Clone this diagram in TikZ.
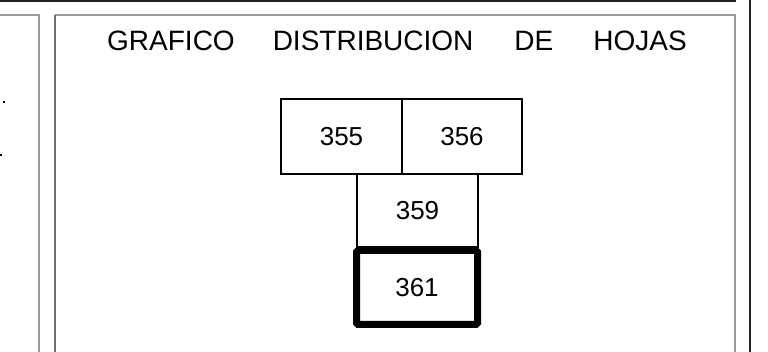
\documentclass[tikz,border=0pt]{standalone}
\usepackage{fontspec}
\setmainfont{Liberation Sans}
\usepackage{tikz}
\usetikzlibrary{positioning}
\definecolor{framedark}{HTML}{222222}
\definecolor{framegray}{HTML}{9A9A9A}
\definecolor{framemid}{HTML}{6E6E6E}

\begin{document}
\begin{tikzpicture}[
    x=1pt, y=-1pt,
    every node/.style={font=\fontsize{26}{30}\selectfont, inner sep=0pt},
    sheet/.style={draw=black, line width=1.1pt, minimum width=121pt, minimum height=75pt},
    current/.style={sheet, line width=7pt, rounded corners=1.5pt, minimum width=121pt, minimum height=74pt}
]
    \useasboundingbox (0,0) rectangle (768,352);

    % === OUTER FRAME ===
    \draw[framedark, line width=2pt] (0,0.8) -- (736,0.8);
    \draw[framedark, line width=2pt] (750,0) -- (750,352);

    % left panel (cut off)
    \draw[framegray, line width=1.6pt] (0,15) -- (39,15) -- (39,352);
    \fill[black] (3,101.3) rectangle (4.6,102.9);
    \fill[black] (0,154.3) rectangle (1.6,155.9);

    % right panel
    \draw[framegray, line width=1.6pt] (735,352) -- (735,15) -- (55,15);
    \draw[framemid, line width=1.6pt] (55,15) -- (55,352);

    % === TITLE ===
    \node[anchor=base west, font=\fontsize{28}{32}\selectfont] (title) at (107,51)
        {GRAFICO\hspace{38pt}DISTRIBUCION\hspace{41pt}DE\hspace{40pt}HOJAS};

    % === SHEETS ===
    \node[sheet] (s355) at (341.5,136.5) {355};
    \node[sheet, minimum width=120pt] (s356) at (462,136.5) {356};
    \node[sheet, minimum height=73pt] (s359) at (417.5,210.5) {359};

    % current sheet
    \node[current] (s361) at (417,287.5) {361};
\end{tikzpicture}
\end{document}
